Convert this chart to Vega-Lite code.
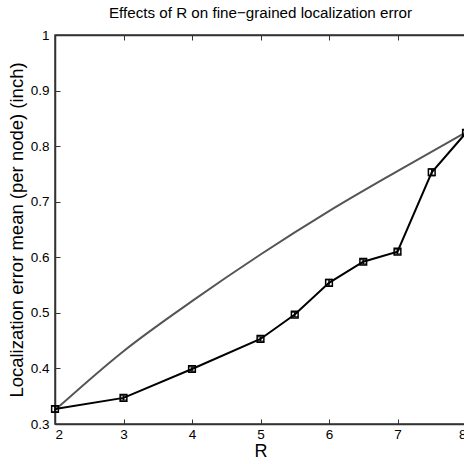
{
  "$schema": "https://vega.github.io/schema/vega-lite/v6.json",
  "autosize": {"type": "none"},
  "padding": {"left": 55, "top": 35, "right": 0, "bottom": 40},
  "width": 411,
  "height": 389,
  "title": {"text": "Effects of R on fine\u2212grained localization error", "font": "Liberation Sans", "fontSize": 15.2, "fontWeight": "normal", "color": "#000", "offset": 7},
  "config": {
    "view": {"stroke": "#333", "strokeWidth": 1.5},
    "axis": {"labelFont": "Liberation Sans", "titleFont": "Liberation Sans", "labelFontSize": 13.5, "titleFontSize": 18, "titleFontWeight": "normal", "labelColor": "#000", "titleColor": "#000", "domainColor": "#333", "domainWidth": 1.5, "tickColor": "#333", "grid": false}
  },
  "datasets": {
    "meas": [
      {"R": 2, "err": 0.327, "lo": 0.322, "hi": 0.332},
      {"R": 3, "err": 0.347, "lo": 0.343, "hi": 0.351},
      {"R": 4, "err": 0.399, "lo": 0.395, "hi": 0.403},
      {"R": 5, "err": 0.453, "lo": 0.449, "hi": 0.457},
      {"R": 5.5, "err": 0.497, "lo": 0.493, "hi": 0.501},
      {"R": 6, "err": 0.554, "lo": 0.548, "hi": 0.56},
      {"R": 6.5, "err": 0.592, "lo": 0.588, "hi": 0.596},
      {"R": 7, "err": 0.61, "lo": 0.606, "hi": 0.614},
      {"R": 7.5, "err": 0.753, "lo": 0.747, "hi": 0.759},
      {"R": 8, "err": 0.824, "lo": 0.82, "hi": 0.828}
    ],
    "theory": [
      {"R": 2, "err": 0.325},
      {"R": 3, "err": 0.431},
      {"R": 4, "err": 0.521},
      {"R": 5, "err": 0.605},
      {"R": 6, "err": 0.683},
      {"R": 7, "err": 0.755},
      {"R": 8, "err": 0.825}
    ]
  },
  "layer": [
    {
      "data": {"name": "theory"},
      "mark": {"type": "line", "color": "#555", "strokeWidth": 2, "interpolate": "monotone"},
      "encoding": {
        "x": {"field": "R", "type": "quantitative", "scale": {"domain": [2, 8], "nice": false}, "axis": {"title": "R", "values": [2,3,4,5,6,7,8], "format": "d", "tickSize": -5, "labelPadding": 8, "titlePadding": 0, "titleY": 18}},
        "y": {"field": "err", "type": "quantitative", "scale": {"domain": [0.3, 1], "nice": false, "zero": false}, "axis": {"title": "Localization error mean (per node) (inch)", "titleFontSize": 18.5, "values": [0.3,0.4,0.5,0.6,0.7,0.8,0.9,1], "format": "~g", "tickSize": -5, "labelPadding": 11, "titlePadding": 4}}
      }
    },
    {
      "data": {"name": "meas"},
      "mark": {"type": "line", "color": "#000", "strokeWidth": 2},
      "encoding": {
        "x": {"field": "R", "type": "quantitative", "axis": {"orient": "top", "title": null, "labels": false, "values": [2,3,4,5,6,7,8], "tickSize": -5}},
        "y": {"field": "err", "type": "quantitative"}
      }
    },
    {
      "data": {"name": "meas"},
      "mark": {"type": "rule", "color": "#000", "strokeWidth": 1.5},
      "encoding": {
        "x": {"field": "R", "type": "quantitative", "axis": null},
        "y": {"field": "lo", "type": "quantitative"},
        "y2": {"field": "hi"}
      }
    },
    {
      "data": {"name": "meas"},
      "mark": {"type": "tick", "color": "#000", "orient": "horizontal", "size": 7, "thickness": 1.5},
      "encoding": {
        "x": {"field": "R", "type": "quantitative", "axis": null},
        "y": {"field": "lo", "type": "quantitative"}
      }
    },
    {
      "data": {"name": "meas"},
      "mark": {"type": "tick", "color": "#000", "orient": "horizontal", "size": 7, "thickness": 1.5},
      "encoding": {
        "x": {"field": "R", "type": "quantitative", "axis": null},
        "y": {"field": "hi", "type": "quantitative"}
      }
    },
    {
      "data": {"name": "meas"},
      "mark": {"type": "point", "shape": "square", "filled": false, "color": "#000", "size": 45, "strokeWidth": 1.5, "opacity": 1},
      "encoding": {
        "x": {"field": "R", "type": "quantitative", "axis": null},
        "y": {"field": "err", "type": "quantitative"}
      }
    }
  ],
  "resolve": {"axis": {"x": "independent"}}
}
